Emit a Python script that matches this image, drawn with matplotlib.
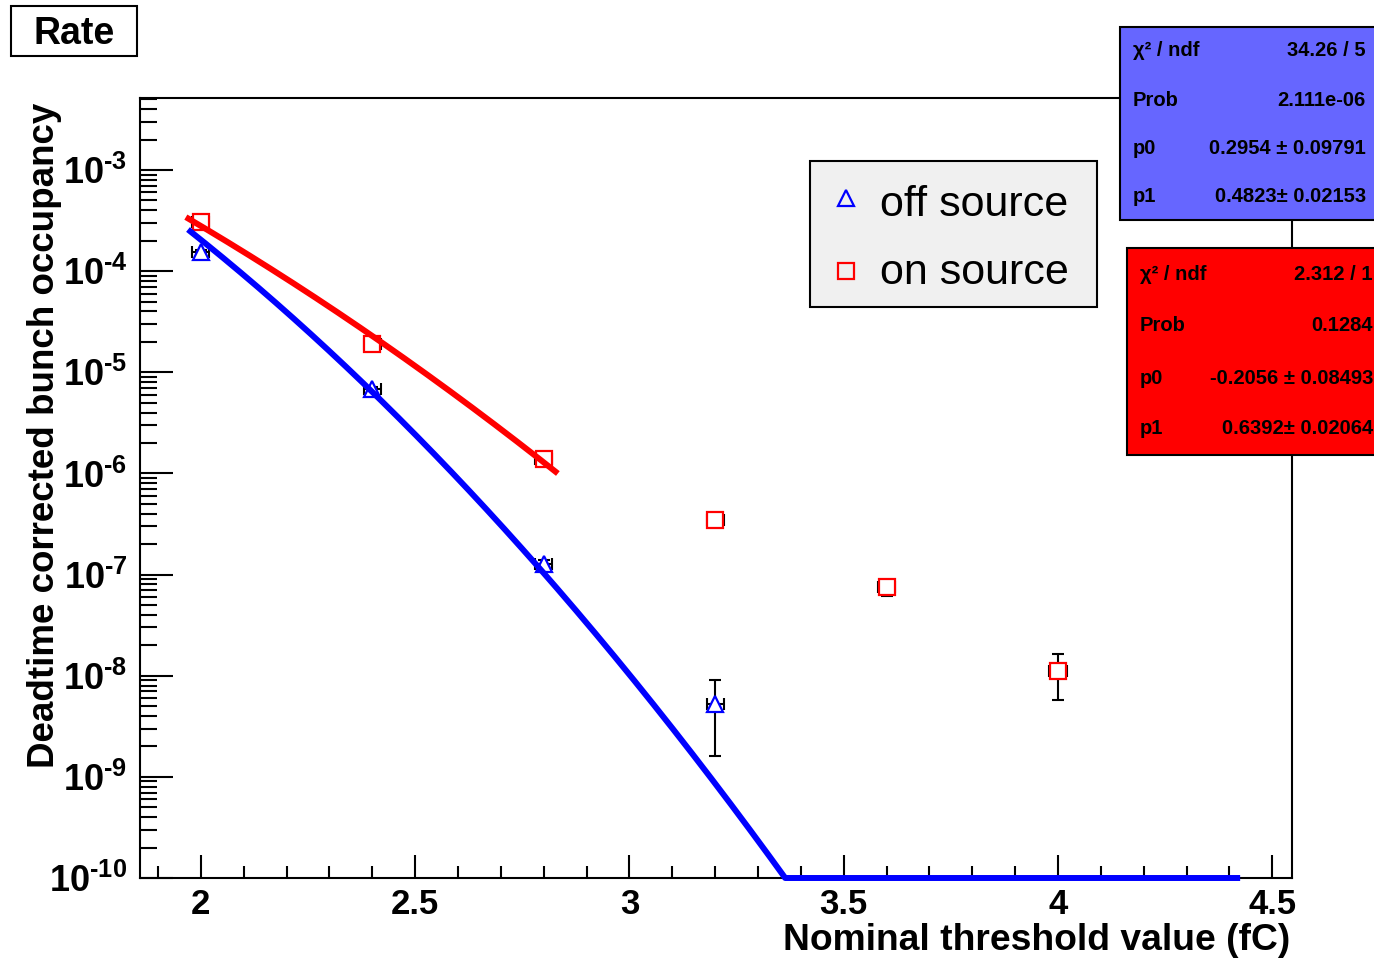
import math
import numpy as np
import matplotlib
matplotlib.use("Agg")
import matplotlib.pyplot as plt
from matplotlib.patches import Rectangle
from matplotlib.lines import Line2D
from matplotlib.ticker import (LogLocator, FixedLocator, MultipleLocator,
                               FuncFormatter, NullFormatter)

plt.rcParams["font.family"] = ["Liberation Sans", "DejaVu Sans"]
plt.rcParams["mathtext.fontset"] = "custom"
plt.rcParams["mathtext.rm"] = "Liberation Sans"
plt.rcParams["mathtext.bf"] = "Liberation Sans:bold"

# ---- measurements ----
off_thr = [2.0, 2.4, 2.8, 3.2]
off_occ = [1.55e-4, 6.8e-6, 1.27e-7, 5.3e-9]
off_err = [8e-6, 4e-7, 1.2e-8, 3.7e-9]

on_thr = [2.0, 2.4, 2.8, 3.2, 3.6, 4.0]
on_occ = [3.06e-4, 1.9e-5, 1.38e-6, 3.5e-7, 7.5e-8, 1.11e-8]
on_err = [1.2e-5, 1.0e-6, 8e-8, 3e-8, 1.4e-8, 5.4e-9]

thr_err = 0.02

# decades labelled on the y axis
y_decades = [-10, -9, -8, -7, -6, -5, -4, -3]

# ---- fit results (Gaussian-noise tail: 0.5*erfc((x-p0)/(sqrt2*p1))) ----
off_p0, off_p1 = 0.2954, 0.4823
on_p0, on_p1 = -0.2056, 0.6392
off_fit_range = (1.97, 4.425)
on_fit_range = (1.965, 2.833)

off_stats_labels = ["\u03c7\u00b2 / ndf", "Prob", "p0", "p1"]
off_stats_values = ["34.26 / 5", "2.111e-06", "0.2954 \u00b1 0.09791", "0.4823\u00b1 0.02153"]
on_stats_labels = ["\u03c7\u00b2 / ndf", "Prob", "p0", "p1"]
on_stats_values = ["2.312 / 1", "0.1284", "-0.2056 \u00b1 0.08493", "0.6392\u00b1 0.02064"]

legend_labels = ["off source", "on source"]

W, H = 1374, 960
fig = plt.figure(figsize=(W / 100, H / 100), dpi=100)
ax = fig.add_axes([140 / W, 82 / H, 1152 / W, 780 / H])

ymin, ymax = 1e-10, 10 ** -2.288
ax.set_xlim(1.858, 4.546)
ax.set_yscale("log")
ax.set_ylim(ymin, ymax)


def tail(x, p0, p1):
    return np.array([0.5 * math.erfc((v - p0) / (math.sqrt(2) * p1)) for v in x])


xf = np.linspace(*off_fit_range, 600)
yf = np.maximum(tail(xf, off_p0, off_p1), ymin)
ax.plot(xf, yf, color="#0000ff", lw=4.3, clip_on=False, zorder=6,
        solid_capstyle="butt")
xr = np.linspace(*on_fit_range, 300)
ax.plot(xr, tail(xr, on_p0, on_p1), color="#ff0000", lw=4.3, zorder=6,
        solid_capstyle="butt")

ax.errorbar(off_thr, off_occ, xerr=thr_err, yerr=off_err, fmt="none",
            ecolor="black", elinewidth=1.5, capsize=4, capthick=1.5, zorder=3)
ax.errorbar(on_thr, on_occ, xerr=thr_err, yerr=on_err, fmt="none",
            ecolor="black", elinewidth=1.5, capsize=4, capthick=1.5, zorder=3)
ax.plot(off_thr, off_occ, ls="none", marker="^", ms=12, mfc="white",
        mec="#0000ff", mew=1.6, zorder=4)
ax.plot(on_thr, on_occ, ls="none", marker="s", ms=11.5, mfc="white",
        mec="#ff0000", mew=1.6, zorder=4)

# axes style
for s in ax.spines.values():
    s.set_linewidth(1.5)
ax.xaxis.set_major_locator(MultipleLocator(0.5))
ax.xaxis.set_minor_locator(MultipleLocator(0.1))
ax.xaxis.set_major_formatter(FuncFormatter(lambda v, p: f"{v:g}"))
ax.yaxis.set_major_locator(FixedLocator([10.0 ** e for e in y_decades]))
ax.yaxis.set_minor_locator(LogLocator(base=10, subs=np.arange(2, 10), numticks=20))
ax.yaxis.set_minor_formatter(NullFormatter())


def decade_label(v, pos):
    e = round(math.log10(v))
    sign = "\u2010" if e < 0 else ""
    return r"$\mathbf{10^{%s%d}}$" % (sign, abs(e))


ax.yaxis.set_major_formatter(FuncFormatter(decade_label))
ax.tick_params(axis="x", which="major", direction="in", length=16.5, width=1.5,
               pad=7, labelsize=25, top=False)
ax.tick_params(axis="x", which="minor", direction="in", length=8.6, width=1.5,
               top=False)
ax.tick_params(axis="y", which="major", direction="in", length=24, width=1.5,
               pad=9, labelsize=26, right=False)
ax.tick_params(axis="y", which="minor", direction="in", length=12, width=1.5,
               right=False)
for lab in ax.get_xticklabels():
    lab.set_fontweight("bold")


def fx(px):
    return px / W


def fy(py):
    return 1 - py / H


fig.text(fx(1290), fy(940), "Nominal threshold value (fC)", ha="right",
         va="center", fontsize=26.8, fontweight="bold")
fig.text(fx(45), fy(435), "Deadtime corrected bunch occupancy", ha="center",
         va="center", rotation=90, fontsize=26.5, fontweight="bold")

# title box
fig.add_artist(Rectangle((fx(11), fy(56)), fx(126), 50 / H, transform=fig.transFigure,
                         facecolor="white", edgecolor="black", lw=1.5))
fig.text(fx(74), fy(34), "Rate", ha="center", va="center", fontsize=27,
         fontweight="bold")

# legend
fig.add_artist(Rectangle((fx(810), fy(307)), fx(287), 146 / H,
                         transform=fig.transFigure, facecolor="#f0f0f0",
                         edgecolor="black", lw=1.5, zorder=7))
fig.add_artist(Line2D([fx(846)], [fy(198)], transform=fig.transFigure, marker="^",
                      ms=12, mfc="none", mec="#0000ff", mew=1.6, zorder=8))
fig.add_artist(Line2D([fx(846)], [fy(271)], transform=fig.transFigure, marker="s",
                      ms=11, mfc="none", mec="#ff0000", mew=1.6, zorder=8))
for lab, py in zip(legend_labels, [205, 273]):
    fig.text(fx(880), fy(py), lab, ha="left", va="center", fontsize=31, zorder=8)


# fit statistics boxes
def stats_box(x0, y0, y1, color, labels, values, rows, xl, xr):
    fig.add_artist(Rectangle((fx(x0), fy(y1)), fx(W + 20 - x0), (y1 - y0) / H,
                             transform=fig.transFigure, facecolor=color,
                             edgecolor="black", lw=1.5, zorder=9))
    for lab, val, py in zip(labels, values, rows):
        fig.text(fx(xl), fy(py), lab, ha="left", va="center", fontsize=14.5,
                 fontweight="bold", zorder=10)
        fig.text(fx(xr), fy(py), val, ha="right", va="center", fontsize=14.5,
                 fontweight="bold", zorder=10)


stats_box(1120, 27, 220, "#6666ff", off_stats_labels, off_stats_values,
          [50, 100, 148, 197], 1133, 1366)
stats_box(1127, 248, 455, "#ff0000", on_stats_labels, on_stats_values,
          [274, 325, 378, 429], 1140, 1373)

fig.savefig("out.png", dpi=100)
